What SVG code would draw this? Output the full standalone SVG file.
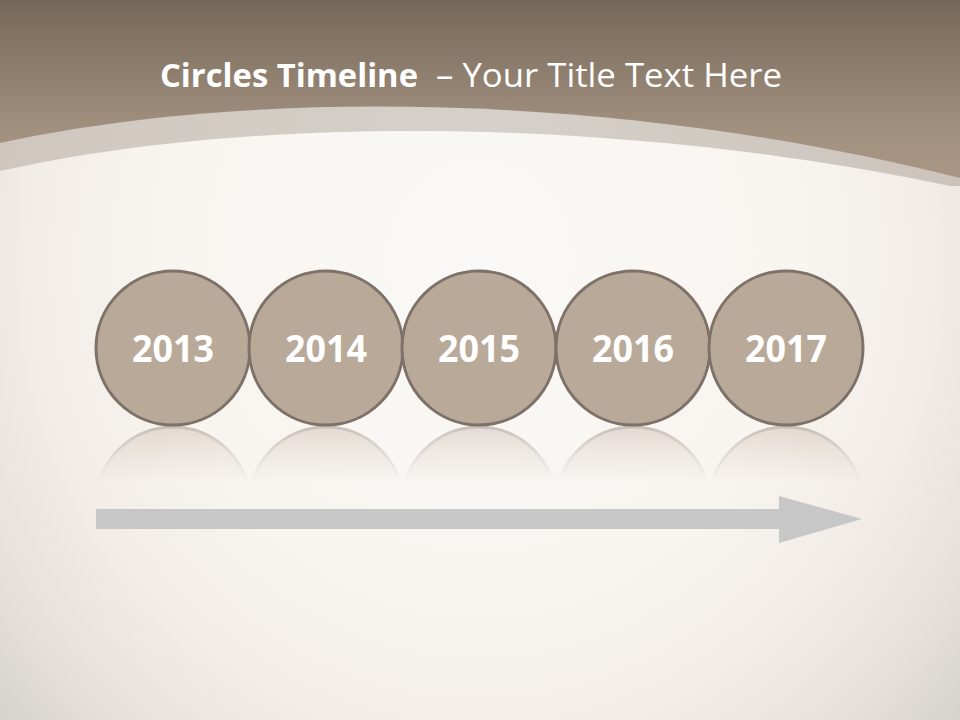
<svg xmlns="http://www.w3.org/2000/svg" width="960" height="720" viewBox="0 0 960 720">
<defs>
<radialGradient id="bg" cx="480" cy="260" r="650" gradientUnits="userSpaceOnUse" gradientTransform="translate(480 260) scale(1 1.08) translate(-480 -260)">
<stop offset="0" stop-color="#faf9f7"/>
<stop offset="0.5" stop-color="#f8f4f0"/>
<stop offset="0.7" stop-color="#f1ece7"/>
<stop offset="0.86" stop-color="#e5e0db"/>
<stop offset="1" stop-color="#d4d0cc"/>
</radialGradient>
<linearGradient id="hdr" x1="0" y1="0" x2="0" y2="190" gradientUnits="userSpaceOnUse">
<stop offset="0" stop-color="#766858"/>
<stop offset="0.7" stop-color="#a39180"/>
<stop offset="1" stop-color="#aa9785"/>
</linearGradient>
<linearGradient id="band" x1="0" y1="0" x2="1" y2="0">
<stop offset="0" stop-color="#cfc7bf"/>
<stop offset="0.5" stop-color="#d6d0ca"/>
<stop offset="1" stop-color="#ccc4bc"/>
</linearGradient>
<linearGradient id="fade" x1="0" y1="426" x2="0" y2="482" gradientUnits="userSpaceOnUse">
<stop offset="0" stop-color="#fff" stop-opacity="0.45"/>
<stop offset="0.5" stop-color="#fff" stop-opacity="0.2"/>
<stop offset="1" stop-color="#fff" stop-opacity="0"/>
</linearGradient>
<mask id="reflMask" maskUnits="userSpaceOnUse" x="0" y="0" width="960" height="720">
<rect x="0" y="426" width="960" height="56" fill="url(#fade)"/>
</mask>
<style>
.circ{fill:#b9a999;stroke:#7e7167;stroke-width:3}
.refl{fill:#c9b9a9;stroke:#8a7d73;stroke-width:3}
.yr{font-family:"Open Sans","DejaVu Sans",sans-serif;font-weight:bold;font-size:38px;fill:#ffffff;text-anchor:middle}
.ttl{font-family:"Open Sans","DejaVu Sans",sans-serif;font-size:33px;fill:#ffffff}
</style>
</defs>
<rect x="0" y="0" width="960" height="720" fill="url(#bg)"/>
<g id="header">
<path d="M0,0 H960 V200 H0 Z" fill="url(#hdr)"/>
<path d="M0,143 C250,88 620,92 960,178 V200 H0 Z" fill="url(#band)"/>
<rect x="0" y="186" width="960" height="60" fill="url(#bg)"/>
<path d="M0,171 C250,115 620,115 960,188 V250 H0 Z" fill="url(#bg)"/>
<text class="ttl" x="160" y="87" font-weight="bold" textLength="258" lengthAdjust="spacingAndGlyphs">Circles Timeline</text>
<text class="ttl" x="436" y="87" textLength="346" lengthAdjust="spacingAndGlyphs">– Your Title Text Here</text>
</g>
<g id="reflections" mask="url(#reflMask)">
<circle class="refl" cx="173" cy="504" r="77"/>
<circle class="refl" cx="326" cy="504" r="77"/>
<circle class="refl" cx="479" cy="504" r="77"/>
<circle class="refl" cx="633" cy="504" r="77"/>
<circle class="refl" cx="786" cy="504" r="77"/>
</g>
<g id="connectors">
<polygon points="96,509 779,509 779,496 862,519 779,543 779,529 96,529" fill="#c7c7c7"/>
</g>
<g id="node-2013"><circle class="circ" cx="173" cy="348" r="77"/><text class="yr" x="173" y="362" textLength="82" lengthAdjust="spacingAndGlyphs">2013</text></g>
<g id="node-2014"><circle class="circ" cx="326" cy="348" r="77"/><text class="yr" x="326" y="362" textLength="82" lengthAdjust="spacingAndGlyphs">2014</text></g>
<g id="node-2015"><circle class="circ" cx="479" cy="348" r="77"/><text class="yr" x="479" y="362" textLength="82" lengthAdjust="spacingAndGlyphs">2015</text></g>
<g id="node-2016"><circle class="circ" cx="633" cy="348" r="77"/><text class="yr" x="633" y="362" textLength="82" lengthAdjust="spacingAndGlyphs">2016</text></g>
<g id="node-2017"><circle class="circ" cx="786" cy="348" r="77"/><text class="yr" x="786" y="362" textLength="82" lengthAdjust="spacingAndGlyphs">2017</text></g>
</svg>
